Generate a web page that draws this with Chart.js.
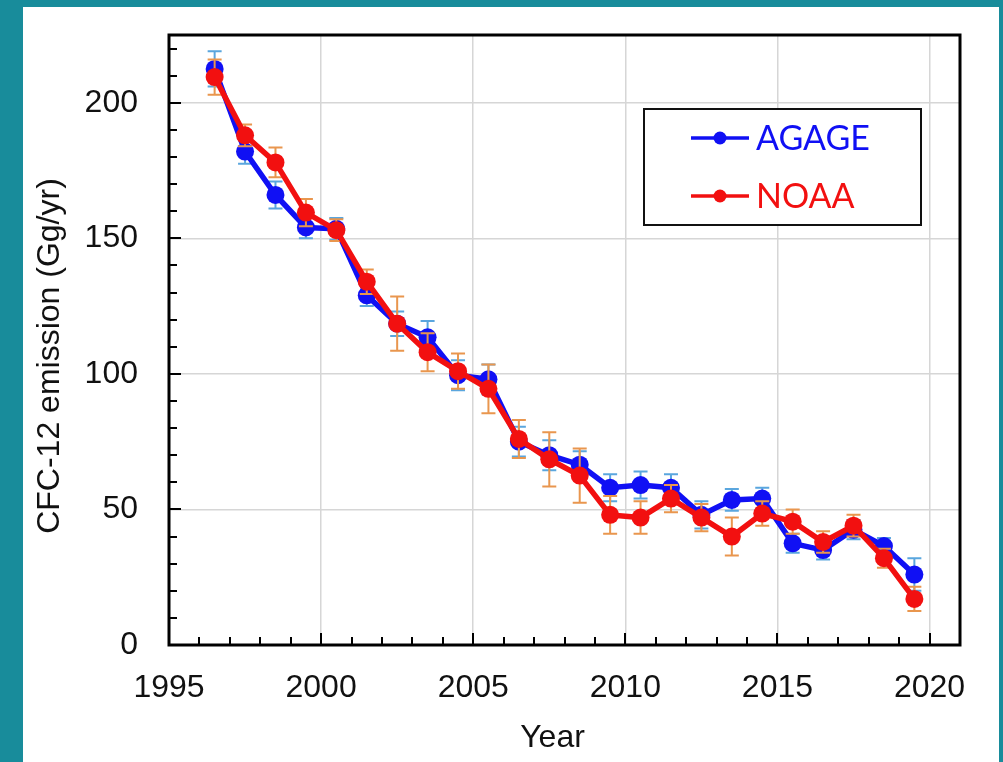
<!DOCTYPE html>
<html>
<head>
<meta charset="utf-8">
<title>CFC-12 emission</title>
<script src="https://cdn.jsdelivr.net/npm/chart.js@4.4.1/dist/chart.umd.min.js"></script>
<style>
  html, body { margin: 0; padding: 0; }
  body { width: 1003px; height: 762px; background: #188c9b; position: relative; overflow: hidden; }
  #panel { position: absolute; left: 23px; top: 7px; width: 976px; height: 755px; background: #ffffff; }
  #chart { display: block; }
</style>
</head>
<body>
<div id="panel"><canvas id="chart" width="976" height="755"></canvas></div>
<script>
// Mid-year time stamps of the annual estimates
const years = [1996.5, 1997.5, 1998.5, 1999.5, 2000.5, 2001.5, 2002.5, 2003.5,
               2004.5, 2005.5, 2006.5, 2007.5, 2008.5, 2009.5, 2010.5, 2011.5,
               2012.5, 2013.5, 2014.5, 2015.5, 2016.5, 2017.5, 2018.5, 2019.5];

// Global CFC-12 emissions (Gg/yr)
const agage = [212.5, 182, 166, 154, 153.5, 129, 118.5, 113.5, 99.5, 98, 75, 70,
               66.5, 58, 59, 58, 48, 53.5, 54, 37.5, 35, 42.5, 36.5, 26];
const noaa  = [209.5, 188, 178, 159.5, 153, 134, 118.5, 108, 101, 94.5, 76, 68.5,
               62.5, 48, 47, 54, 47, 40, 48.5, 45.5, 38, 44, 32, 17];

// Uncertainty (± Gg/yr)
const agageErr = [6.5, 4.5, 5, 4, 4, 4, 4.5, 6, 5.5, 5.5, 5.5, 5.5,
                  5, 5, 5, 5, 5, 4, 4, 3.5, 3.5, 3.5, 3, 6];
const noaaErr  = [6.5, 4, 5.5, 5, 4, 4.5, 10, 7, 6.5, 9, 7, 10,
                  10, 7, 6, 5, 5, 7, 4.5, 4.5, 4, 4, 3.5, 4.5];

// Axis settings
const xMin = 1995, xMax = 2021, xStep = 5, xLastLabel = 2020;
const yMin = 0, yMax = 225, yStep = 50, yLastLabel = 200;
const xMinorStep = 1, yMinorStep = 10;

const FONT = '"Liberation Sans", Arial, Helvetica, sans-serif';
const BLUE = '#1010f4', RED = '#f21010';
const BLUE_ERR = '#5aa6de', RED_ERR = '#e9964e';

const toPoints = (vals) => years.map((x, i) => ({ x: x, y: vals[i] }));

// Vertical error bars with caps, drawn just before each series
const errorBars = {
  id: 'errorBars',
  beforeDatasetDraw(chart, args) {
    const ds = chart.data.datasets[args.index];
    if (!ds.errors) return;
    const { ctx, scales: { x, y } } = chart;
    ctx.save();
    ctx.strokeStyle = ds.errorColor;
    ctx.lineWidth = 2;
    const cap = 7;
    ds.data.forEach((p, i) => {
      const e = ds.errors[i];
      const px = x.getPixelForValue(p.x);
      const top = y.getPixelForValue(p.y + e);
      const bot = y.getPixelForValue(p.y - e);
      ctx.beginPath();
      ctx.moveTo(px, top); ctx.lineTo(px, bot);
      ctx.moveTo(px - cap, top); ctx.lineTo(px + cap, top);
      ctx.moveTo(px - cap, bot); ctx.lineTo(px + cap, bot);
      ctx.stroke();
    });
    ctx.restore();
  }
};

// Plot frame, inward tick marks, axis titles and boxed legend
const frameAndLegend = {
  id: 'frameAndLegend',
  afterDraw(chart) {
    const { ctx, chartArea: a, scales: { x, y } } = chart;
    ctx.save();

    // inward ticks
    ctx.strokeStyle = '#000';
    ctx.lineWidth = 2;
    ctx.beginPath();
    for (let v = yMin + yMinorStep; v < yMax; v += yMinorStep) {
      const py = Math.round(y.getPixelForValue(v));
      const len = v % yStep === 0 ? 12 : 8;
      ctx.moveTo(a.left, py); ctx.lineTo(a.left + len, py);
    }
    for (let v = xMin + xMinorStep; v < xMax; v += xMinorStep) {
      const px = Math.round(x.getPixelForValue(v));
      const len = v % xStep === 0 ? 12 : 8;
      ctx.moveTo(px, a.bottom); ctx.lineTo(px, a.bottom - len);
    }
    ctx.stroke();

    // frame
    ctx.lineWidth = 3;
    ctx.strokeRect(a.left, a.top, a.right - a.left, a.bottom - a.top);

    // axis titles
    ctx.fillStyle = '#111';
    ctx.font = '32px ' + FONT;
    ctx.textAlign = 'center';
    ctx.textBaseline = 'middle';
    ctx.fillText('Year', (a.left + a.right) / 2 - 12, 731);
    ctx.save();
    ctx.translate(a.left - 119, (a.top + a.bottom) / 2 + 16);
    ctx.rotate(-Math.PI / 2);
    ctx.fillText('CFC-12 emission (Gg/yr)', 0, 0);
    ctx.restore();

    // legend box
    const bx = 621, by = 102, bw = 277, bh = 116;
    ctx.fillStyle = '#fff';
    ctx.fillRect(bx, by, bw, bh);
    ctx.strokeStyle = '#111';
    ctx.lineWidth = 2;
    ctx.strokeRect(bx, by, bw, bh);
    const rows = [131, 189];
    chart.data.datasets.forEach((ds, i) => {
      const ry = rows[i];
      ctx.strokeStyle = ds.borderColor;
      ctx.fillStyle = ds.borderColor;
      ctx.lineWidth = 3.5;
      ctx.beginPath();
      ctx.moveTo(bx + 47, ry); ctx.lineTo(bx + 105, ry);
      ctx.stroke();
      ctx.beginPath();
      ctx.arc(bx + 76, ry, 6.5, 0, Math.PI * 2);
      ctx.fill();
      ctx.font = '34px Lato, "Open Sans", sans-serif';
      ctx.textAlign = 'left';
      ctx.textBaseline = 'middle';
      ctx.fillText(ds.label, bx + 112, ry + 1);
    });
    ctx.restore();
  }
};

new Chart(document.getElementById('chart'), {
  type: 'line',
  data: {
    datasets: [
      {
        label: 'AGAGE', data: toPoints(agage), errors: agageErr, errorColor: BLUE_ERR,
        borderColor: BLUE, backgroundColor: BLUE, borderWidth: 5.5,
        pointRadius: 9, pointHoverRadius: 9, pointBorderWidth: 0, order: 1
      },
      {
        label: 'NOAA', data: toPoints(noaa), errors: noaaErr, errorColor: RED_ERR,
        borderColor: RED, backgroundColor: RED, borderWidth: 5.5,
        pointRadius: 9, pointHoverRadius: 9, pointBorderWidth: 0, order: 0
      }
    ]
  },
  options: {
    responsive: false,
    animation: false,
    devicePixelRatio: 1,
    layout: { padding: { top: 28, right: 39, left: 0, bottom: 0 } },
    plugins: { legend: { display: false }, tooltip: { enabled: false } },
    scales: {
      x: {
        type: 'linear', min: xMin, max: xMax,
        ticks: {
          stepSize: xStep, includeBounds: false, color: '#111',
          font: { family: FONT, size: 32 },
          padding: 24, maxRotation: 0, autoSkip: false, callback: (v) => String(v)
        },
        afterBuildTicks: (s) => { s.ticks = s.ticks.filter(t => t.value % xStep === 0 && t.value <= xLastLabel); },
        afterFit: (s) => { s.height = 117; s.paddingLeft = 0; s.paddingRight = 0; },
        grid: { color: '#d6d6d6', lineWidth: 1.5, drawTicks: false },
        border: { display: false }
      },
      y: {
        min: yMin, max: yMax,
        ticks: {
          stepSize: yStep, includeBounds: false, color: '#111',
          font: { family: FONT, size: 32 },
          padding: 31, autoSkip: false, callback: (v) => String(v)
        },
        afterBuildTicks: (s) => { s.ticks = s.ticks.filter(t => t.value % yStep === 0 && t.value <= yLastLabel); },
        afterFit: (s) => { s.width = 146; s.paddingTop = 0; s.paddingBottom = 0; },
        grid: { color: '#d6d6d6', lineWidth: 1.5, drawTicks: false },
        border: { display: false }
      }
    }
  },
  plugins: [errorBars, frameAndLegend]
});
</script>
</body>
</html>
